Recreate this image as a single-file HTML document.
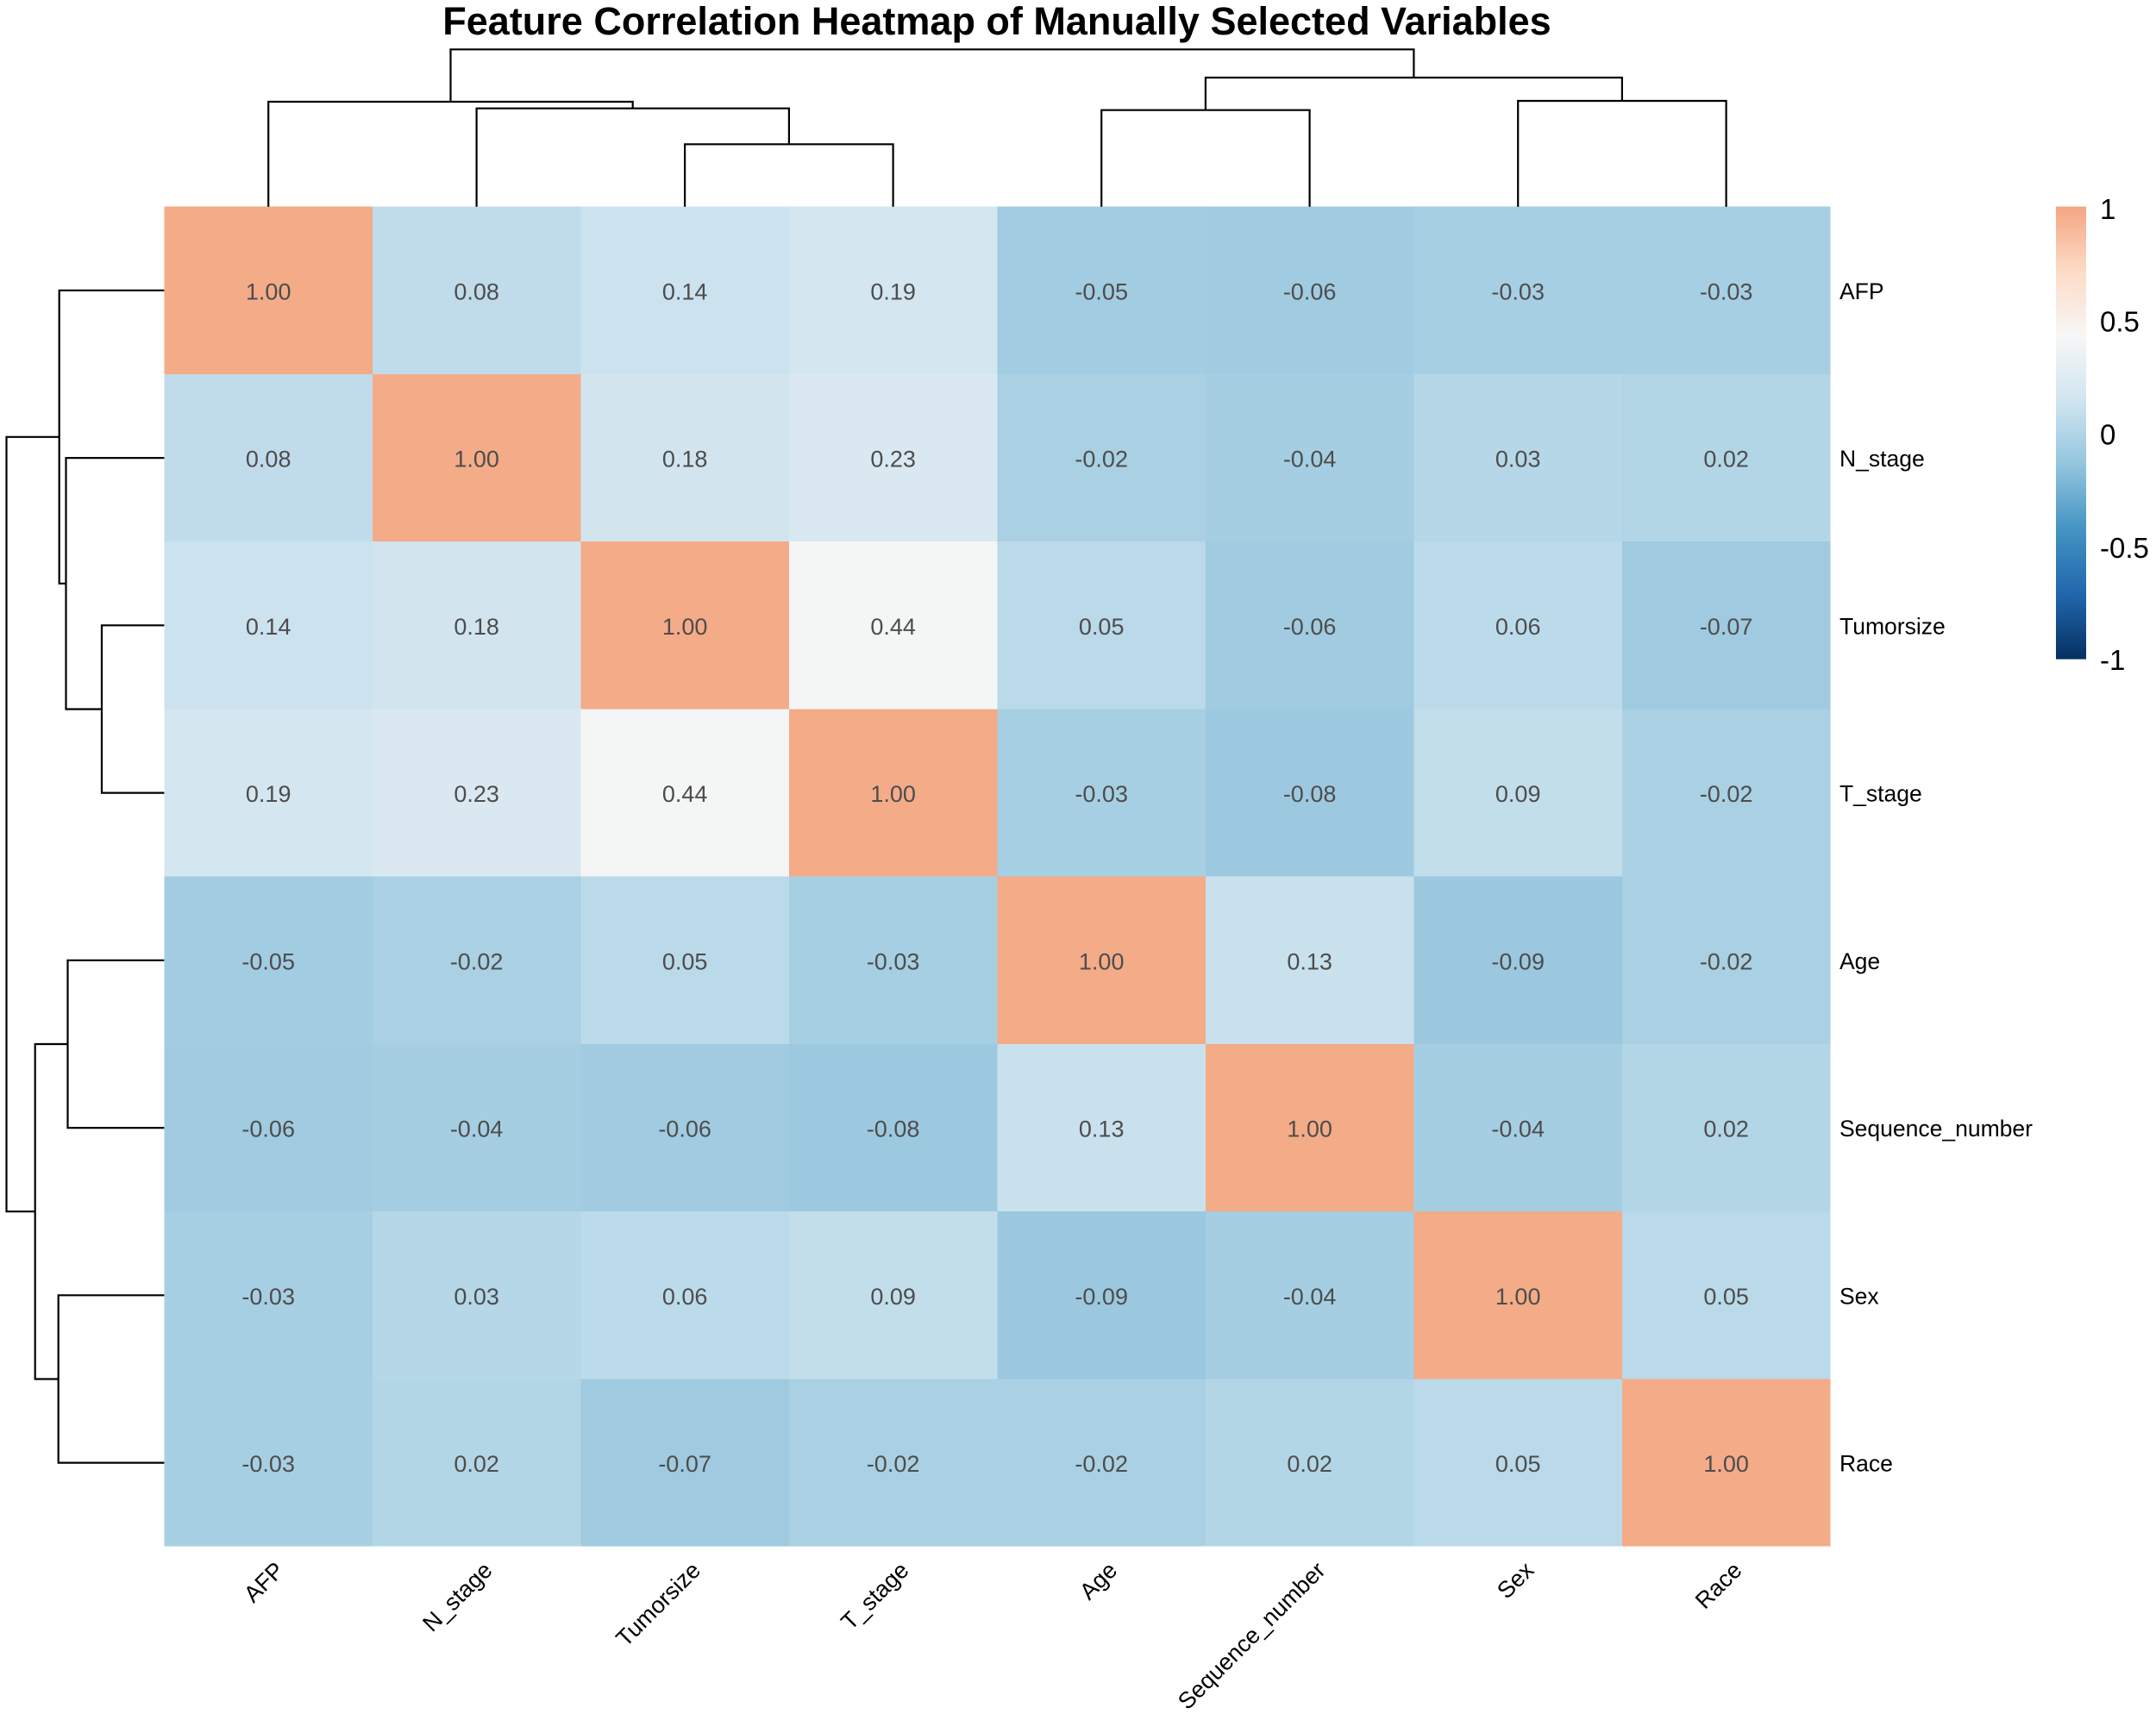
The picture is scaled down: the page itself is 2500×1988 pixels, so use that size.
<!DOCTYPE html>
<html>
<head>
<meta charset="utf-8">
<style>
html,body{margin:0;padding:0;background:#fff;}
svg{display:block;}
text{font-family:"Liberation Sans",Arial,sans-serif;}
</style>
</head>
<body>
<svg width="2500" height="1988" viewBox="0 0 2500 1988" xmlns="http://www.w3.org/2000/svg">
<defs>
<linearGradient id="lg" x1="0" y1="0" x2="0" y2="1">
<stop offset="0" stop-color="#F4A582"/>
<stop offset="0.1429" stop-color="#FDDBC7"/>
<stop offset="0.2857" stop-color="#F7F7F7"/>
<stop offset="0.4286" stop-color="#D1E5F0"/>
<stop offset="0.5714" stop-color="#92C5DE"/>
<stop offset="0.7143" stop-color="#4393C3"/>
<stop offset="0.8571" stop-color="#2166AC"/>
<stop offset="1" stop-color="#053061"/>
</linearGradient>
</defs>
<rect width="2500" height="1988" fill="#fff"/>

<!-- Title -->
<text x="1156" y="40" font-size="45" font-weight="bold" text-anchor="middle" fill="#000">Feature Correlation Heatmap of Manually Selected Variables</text>

<!-- Heatmap cells -->
<g shape-rendering="crispEdges">
<rect x="190.4" y="239.7" width="242" height="195" fill="#F4AB88"/>
<rect x="431.9" y="239.7" width="242" height="195" fill="#C0DCEB"/>
<rect x="673.4" y="239.7" width="242" height="195" fill="#CCE2EE"/>
<rect x="914.9" y="239.7" width="242" height="195" fill="#D4E6F0"/>
<rect x="1156.4" y="239.7" width="242" height="195" fill="#A2CCE1"/>
<rect x="1397.9" y="239.7" width="242" height="195" fill="#A0CBE1"/>
<rect x="1639.4" y="239.7" width="242" height="195" fill="#A7CFE3"/>
<rect x="1880.9" y="239.7" width="241.5" height="195" fill="#A7CFE3"/>
<rect x="190.4" y="433.95" width="242" height="195" fill="#C0DCEB"/>
<rect x="431.9" y="433.95" width="242" height="195" fill="#F4AB88"/>
<rect x="673.4" y="433.95" width="242" height="195" fill="#D2E5EF"/>
<rect x="914.9" y="433.95" width="242" height="195" fill="#DAE9F1"/>
<rect x="1156.4" y="433.95" width="242" height="195" fill="#A9D0E3"/>
<rect x="1397.9" y="433.95" width="242" height="195" fill="#A5CEE2"/>
<rect x="1639.4" y="433.95" width="242" height="195" fill="#B5D7E8"/>
<rect x="1880.9" y="433.95" width="241.5" height="195" fill="#B3D6E7"/>
<rect x="190.4" y="628.2" width="242" height="195" fill="#CCE2EE"/>
<rect x="431.9" y="628.2" width="242" height="195" fill="#D2E5EF"/>
<rect x="673.4" y="628.2" width="242" height="195" fill="#F4AB88"/>
<rect x="914.9" y="628.2" width="242" height="195" fill="#F4F5F5"/>
<rect x="1156.4" y="628.2" width="242" height="195" fill="#BAD9E9"/>
<rect x="1397.9" y="628.2" width="242" height="195" fill="#A0CBE1"/>
<rect x="1639.4" y="628.2" width="242" height="195" fill="#BCDBEA"/>
<rect x="1880.9" y="628.2" width="241.5" height="195" fill="#9FCAE0"/>
<rect x="190.4" y="822.45" width="242" height="195" fill="#D4E6F0"/>
<rect x="431.9" y="822.45" width="242" height="195" fill="#DAE9F1"/>
<rect x="673.4" y="822.45" width="242" height="195" fill="#F4F5F5"/>
<rect x="914.9" y="822.45" width="242" height="195" fill="#F4AB88"/>
<rect x="1156.4" y="822.45" width="242" height="195" fill="#A7CFE3"/>
<rect x="1397.9" y="822.45" width="242" height="195" fill="#9DC9E0"/>
<rect x="1639.4" y="822.45" width="242" height="195" fill="#C2DEEB"/>
<rect x="1880.9" y="822.45" width="241.5" height="195" fill="#A9D0E3"/>
<rect x="190.4" y="1016.7" width="242" height="195" fill="#A2CCE1"/>
<rect x="431.9" y="1016.7" width="242" height="195" fill="#A9D0E3"/>
<rect x="673.4" y="1016.7" width="242" height="195" fill="#BAD9E9"/>
<rect x="914.9" y="1016.7" width="242" height="195" fill="#A7CFE3"/>
<rect x="1156.4" y="1016.7" width="242" height="195" fill="#F4AB88"/>
<rect x="1397.9" y="1016.7" width="242" height="195" fill="#C9E1ED"/>
<rect x="1639.4" y="1016.7" width="242" height="195" fill="#9BC8DF"/>
<rect x="1880.9" y="1016.7" width="241.5" height="195" fill="#A9D0E3"/>
<rect x="190.4" y="1210.95" width="242" height="195" fill="#A0CBE1"/>
<rect x="431.9" y="1210.95" width="242" height="195" fill="#A5CEE2"/>
<rect x="673.4" y="1210.95" width="242" height="195" fill="#A0CBE1"/>
<rect x="914.9" y="1210.95" width="242" height="195" fill="#9DC9E0"/>
<rect x="1156.4" y="1210.95" width="242" height="195" fill="#C9E1ED"/>
<rect x="1397.9" y="1210.95" width="242" height="195" fill="#F4AB88"/>
<rect x="1639.4" y="1210.95" width="242" height="195" fill="#A5CEE2"/>
<rect x="1880.9" y="1210.95" width="241.5" height="195" fill="#B3D6E7"/>
<rect x="190.4" y="1405.2" width="242" height="195" fill="#A7CFE3"/>
<rect x="431.9" y="1405.2" width="242" height="195" fill="#B5D7E8"/>
<rect x="673.4" y="1405.2" width="242" height="195" fill="#BCDBEA"/>
<rect x="914.9" y="1405.2" width="242" height="195" fill="#C2DEEB"/>
<rect x="1156.4" y="1405.2" width="242" height="195" fill="#9BC8DF"/>
<rect x="1397.9" y="1405.2" width="242" height="195" fill="#A5CEE2"/>
<rect x="1639.4" y="1405.2" width="242" height="195" fill="#F4AB88"/>
<rect x="1880.9" y="1405.2" width="241.5" height="195" fill="#BAD9E9"/>
<rect x="190.4" y="1599.45" width="242" height="194.25" fill="#A7CFE3"/>
<rect x="431.9" y="1599.45" width="242" height="194.25" fill="#B3D6E7"/>
<rect x="673.4" y="1599.45" width="242" height="194.25" fill="#9FCAE0"/>
<rect x="914.9" y="1599.45" width="242" height="194.25" fill="#A9D0E3"/>
<rect x="1156.4" y="1599.45" width="242" height="194.25" fill="#A9D0E3"/>
<rect x="1397.9" y="1599.45" width="242" height="194.25" fill="#B3D6E7"/>
<rect x="1639.4" y="1599.45" width="242" height="194.25" fill="#BAD9E9"/>
<rect x="1880.9" y="1599.45" width="241.5" height="194.25" fill="#F4AB88"/>
</g>

<!-- Cell numbers -->
<g font-size="27" fill="#4D4D4D" text-anchor="middle">
<text x="311.2" y="347.3">1.00</text><text x="552.6" y="347.3">0.08</text><text x="794.1" y="347.3">0.14</text><text x="1035.6" y="347.3">0.19</text><text x="1277.2" y="347.3">-0.05</text><text x="1518.6" y="347.3">-0.06</text><text x="1760.2" y="347.3">-0.03</text><text x="2001.6" y="347.3">-0.03</text>
<text x="311.2" y="541.6">0.08</text><text x="552.6" y="541.6">1.00</text><text x="794.1" y="541.6">0.18</text><text x="1035.6" y="541.6">0.23</text><text x="1277.2" y="541.6">-0.02</text><text x="1518.6" y="541.6">-0.04</text><text x="1760.2" y="541.6">0.03</text><text x="2001.6" y="541.6">0.02</text>
<text x="311.2" y="735.8">0.14</text><text x="552.6" y="735.8">0.18</text><text x="794.1" y="735.8">1.00</text><text x="1035.6" y="735.8">0.44</text><text x="1277.2" y="735.8">0.05</text><text x="1518.6" y="735.8">-0.06</text><text x="1760.2" y="735.8">0.06</text><text x="2001.6" y="735.8">-0.07</text>
<text x="311.2" y="930.1">0.19</text><text x="552.6" y="930.1">0.23</text><text x="794.1" y="930.1">0.44</text><text x="1035.6" y="930.1">1.00</text><text x="1277.2" y="930.1">-0.03</text><text x="1518.6" y="930.1">-0.08</text><text x="1760.2" y="930.1">0.09</text><text x="2001.6" y="930.1">-0.02</text>
<text x="311.2" y="1124.3">-0.05</text><text x="552.6" y="1124.3">-0.02</text><text x="794.1" y="1124.3">0.05</text><text x="1035.6" y="1124.3">-0.03</text><text x="1277.2" y="1124.3">1.00</text><text x="1518.6" y="1124.3">0.13</text><text x="1760.2" y="1124.3">-0.09</text><text x="2001.6" y="1124.3">-0.02</text>
<text x="311.2" y="1318.6">-0.06</text><text x="552.6" y="1318.6">-0.04</text><text x="794.1" y="1318.6">-0.06</text><text x="1035.6" y="1318.6">-0.08</text><text x="1277.2" y="1318.6">0.13</text><text x="1518.6" y="1318.6">1.00</text><text x="1760.2" y="1318.6">-0.04</text><text x="2001.6" y="1318.6">0.02</text>
<text x="311.2" y="1512.8">-0.03</text><text x="552.6" y="1512.8">0.03</text><text x="794.1" y="1512.8">0.06</text><text x="1035.6" y="1512.8">0.09</text><text x="1277.2" y="1512.8">-0.09</text><text x="1518.6" y="1512.8">-0.04</text><text x="1760.2" y="1512.8">1.00</text><text x="2001.6" y="1512.8">0.05</text>
<text x="311.2" y="1707.1">-0.03</text><text x="552.6" y="1707.1">0.02</text><text x="794.1" y="1707.1">-0.07</text><text x="1035.6" y="1707.1">-0.02</text><text x="1277.2" y="1707.1">-0.02</text><text x="1518.6" y="1707.1">0.02</text><text x="1760.2" y="1707.1">0.05</text><text x="2001.6" y="1707.1">1.00</text>
</g>

<!-- Top dendrogram -->
<g fill="none" stroke="#000" stroke-width="2.2" stroke-linejoin="miter">
<polyline points="794.1,239.7 794.1,167.3 1035.6,167.3 1035.6,239.7"/>
<polyline points="552.6,239.7 552.6,125.7 914.9,125.7 914.9,167.3"/>
<polyline points="311.2,239.7 311.2,118 733.7,118 733.7,125.7"/>
<polyline points="1277.2,239.7 1277.2,127.7 1518.6,127.7 1518.6,239.7"/>
<polyline points="1760.2,239.7 1760.2,117 2001.6,117 2001.6,239.7"/>
<polyline points="1397.9,127.7 1397.9,90 1880.9,90 1880.9,117"/>
<polyline points="522.5,118 522.5,57.3 1639.4,57.3 1639.4,90"/>
</g>

<!-- Left dendrogram -->
<g fill="none" stroke="#000" stroke-width="2.2" stroke-linejoin="miter">
<polyline points="190.4,725.3 118,725.3 118,919.6 190.4,919.6"/>
<polyline points="190.4,531.1 76.5,531.1 76.5,822.5 118,822.5"/>
<polyline points="190.4,336.8 68.7,336.8 68.7,676.8 76.5,676.8"/>
<polyline points="190.4,1113.8 78.5,1113.8 78.5,1308.1 190.4,1308.1"/>
<polyline points="190.4,1502.3 67.7,1502.3 67.7,1696.6 190.4,1696.6"/>
<polyline points="78.5,1211 40.7,1211 40.7,1599.5 67.7,1599.5"/>
<polyline points="68.7,506.8 7.5,506.8 7.5,1405.2 40.7,1405.2"/>
</g>

<!-- Row labels -->
<g font-size="26.5" fill="#000">
<text x="2133" y="346.8">AFP</text>
<text x="2133" y="541.1">N_stage</text>
<text x="2133" y="735.3">Tumorsize</text>
<text x="2133" y="929.6">T_stage</text>
<text x="2133" y="1123.8">Age</text>
<text x="2133" y="1318.1">Sequence_number</text>
<text x="2133" y="1512.3">Sex</text>
<text x="2133" y="1706.6">Race</text>
</g>

<!-- Column labels -->
<g font-size="27" fill="#000" text-anchor="end">
<text transform="translate(331,1823) rotate(-45)">AFP</text>
<text transform="translate(572.4,1823) rotate(-45)">N_stage</text>
<text transform="translate(813.9,1823) rotate(-45)">Tumorsize</text>
<text transform="translate(1055.4,1823) rotate(-45)">T_stage</text>
<text transform="translate(1297,1823) rotate(-45)">Age</text>
<text transform="translate(1538.4,1823) rotate(-45)">Sequence_number</text>
<text transform="translate(1780,1823) rotate(-45)">Sex</text>
<text transform="translate(2021.4,1823) rotate(-45)">Race</text>
</g>

<!-- Legend -->
<rect x="2384" y="239.6" width="35" height="525" fill="url(#lg)"/>
<g font-size="33" fill="#000">
<text x="2435" y="253.8">1</text>
<text x="2435" y="384.6">0.5</text>
<text x="2435" y="515.6">0</text>
<text x="2435" y="647.2">-0.5</text>
<text x="2435" y="777">-1</text>
</g>
</svg>
</body>
</html>
